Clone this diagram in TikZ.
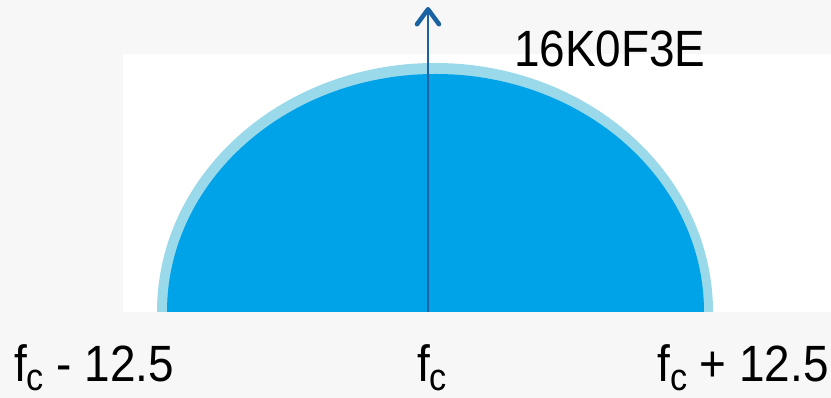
\documentclass[tikz,border=0pt]{standalone}
\usepackage{fontspec}
\setmainfont{Liberation Sans}[FakeStretch=0.9]
\usetikzlibrary{arrows.meta, positioning}
\definecolor{paper}{HTML}{F7F7F7}
\definecolor{bandlight}{HTML}{99D9EA}
\definecolor{bandblue}{HTML}{00A2E8}
\definecolor{carrierblue}{HTML}{1A62A2}
\newcommand{\fcsub}{f\raisebox{-9pt}{\fontsize{38}{40}\selectfont c}}
\tikzset{
    bigtext/.style={inner sep=0pt, font=\fontsize{51}{60}\selectfont},
    freqlabel/.style={bigtext, anchor=base west},
    carrier/.style={-{Straight Barb[length=15pt, width=22pt, line width=4.5pt, round]}, line width=1.8pt, draw=carrierblue}
}

\begin{document}
\begin{tikzpicture}[x=1pt, y=1pt]
    \useasboundingbox (0,0) rectangle (831,398);
    \fill[paper] (0,0) rectangle (831,398);
    \fill[white] (123,86) rectangle (831,344);
    \fill[bandlight] (157,86) arc[start angle=180, end angle=0, x radius=278, y radius=249] -- cycle;
    \fill[bandblue] (167,86) arc[start angle=180, end angle=0, x radius=268.5, y radius=238] -- cycle;
    \coordinate (base) at (428,86);
    \coordinate (peak) at (428,391);
    \draw[carrier] (base) -- (peak);
    \node[freqlabel] (emission) at (514,331) {16K0F3E};
    \node[freqlabel] (lower) at (14,16) {\fcsub\ - 12.5};
    \node[freqlabel] (centre) at (417,16) {\fcsub};
    \node[bigtext, anchor=base east] (upper) at (829,16) {\fcsub\ + 12.5};
\end{tikzpicture}
\end{document}
